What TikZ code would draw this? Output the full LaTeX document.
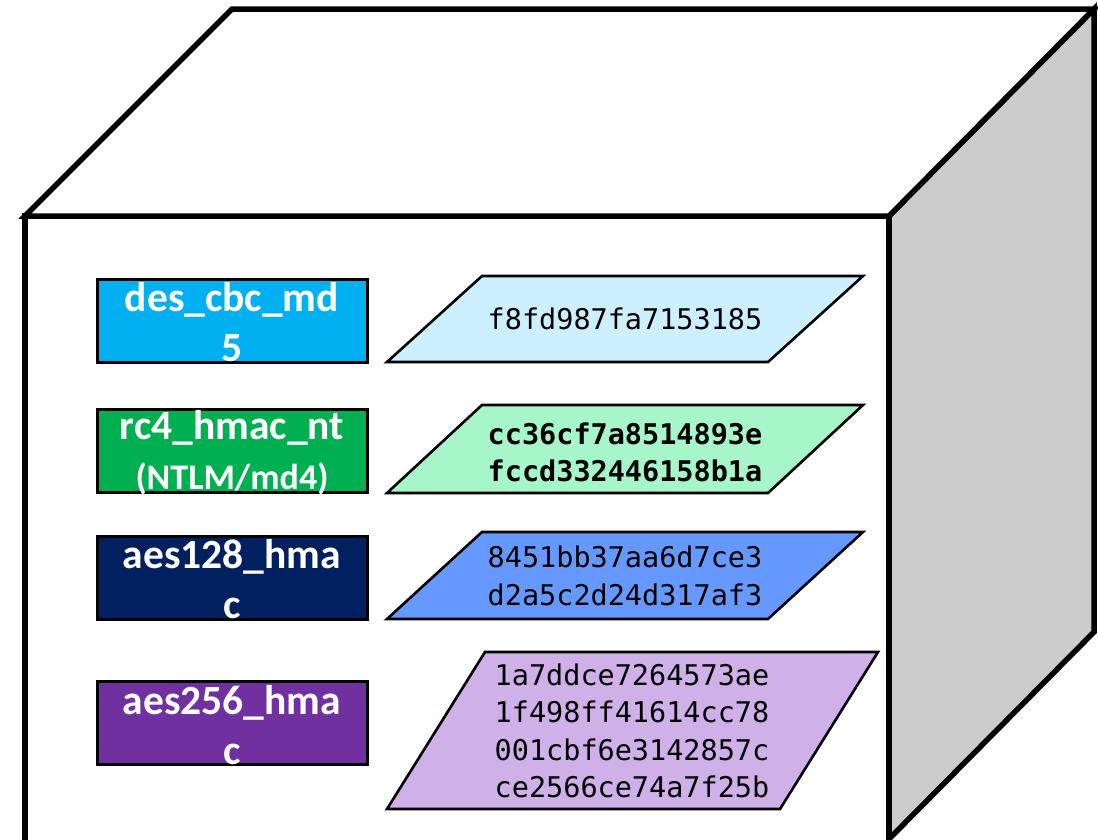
\documentclass[tikz,border=0pt]{standalone}
\usepackage{fontspec}
\setmainfont{Carlito}
\setmonofont{DejaVu Sans Mono}
\definecolor{sidegray}{RGB}{204,204,204}
\definecolor{cA}{RGB}{0,176,240}
\definecolor{cB}{RGB}{0,176,80}
\definecolor{cC}{RGB}{0,32,96}
\definecolor{cD}{RGB}{112,48,160}
\definecolor{pA}{RGB}{204,240,255}
\definecolor{pB}{RGB}{166,246,202}
\definecolor{pC}{RGB}{102,153,255}
\definecolor{pD}{RGB}{208,176,232}
\tikzset{
  cubeline/.style={draw=black,line width=5.5pt,line join=miter},
  algbox/.style={draw=black,line width=3pt,minimum width=270pt,minimum height=83pt,inner sep=0pt},
  algtext/.style={text=white,font=\bfseries\fontsize{41.5}{50}\selectfont,align=center,inner sep=0pt},
  hashshape/.style={draw=black,line width=2.6pt,line join=miter},
  hashtext/.style={font=\ttfamily\fontsize{28.5}{37.5}\selectfont,align=center,inner sep=0pt},
}
\begin{document}
\begin{tikzpicture}[x=1pt,y=-1pt]
\useasboundingbox (0,0) rectangle (1098,839);
\begin{scope}
\clip (0,0) rectangle (1098,839);
% front face
\draw[cubeline,fill=white] (25,216) rectangle (889,870);
% right side face
\draw[cubeline,fill=sidegray] (889,216) -- (1094,9) -- (1094,632) -- (889,839) -- cycle;
\end{scope}
% top face
\draw[cubeline,fill=white] (25,216) -- (232,9) -- (1094,9) -- (889,216) -- cycle;

% algorithm boxes
\node[algbox,fill=cA] (a1) at (232,320.5) {};
\node[algtext,yshift=-2pt] (t1) at (a1) {des\_cbc\_md\\5};
\node[algbox,fill=cB] (a2) at (232,451) {};
\node[algtext,yshift=-2pt] (t2) at (a2) {rc4\_hmac\_nt\\{\fontsize{36}{45}\selectfont(NTLM/md4)}};
\node[algbox,fill=cC] (a3) at (232,577.5) {};
\node[algtext,yshift=-2pt] (t3) at (a3) {aes128\_hma\\c};
\node[algbox,fill=cD] (a4) at (232,723) {};
\node[algtext,yshift=-2pt] (t4) at (a4) {aes256\_hma\\c};

% hash parallelograms
\draw[hashshape,fill=pA] (482,276) -- (863,276) -- (768,362) -- (387,362) -- cycle;
\node[hashtext] (h1) at (625,319) {f8fd987fa7153185};
\draw[hashshape,fill=pB] (482,405) -- (863,405) -- (768,493) -- (387,493) -- cycle;
\node[hashtext,font=\ttfamily\bfseries\fontsize{28.5}{37}\selectfont] (h2) at (625,452) {cc36cf7a8514893e\\fccd332446158b1a};
\draw[hashshape,fill=pC] (482,532) -- (863,532) -- (768,619) -- (387,619) -- cycle;
\node[hashtext] (h3) at (625,576) {8451bb37aa6d7ce3\\d2a5c2d24d317af3};
\draw[hashshape,fill=pD] (485,652) -- (878,652) -- (780,809) -- (387,809) -- cycle;
\node[hashtext] (h4) at (632,731) {1a7ddce7264573ae\\1f498ff41614cc78\\001cbf6e3142857c\\ce2566ce74a7f25b};
\end{tikzpicture}
\end{document}
